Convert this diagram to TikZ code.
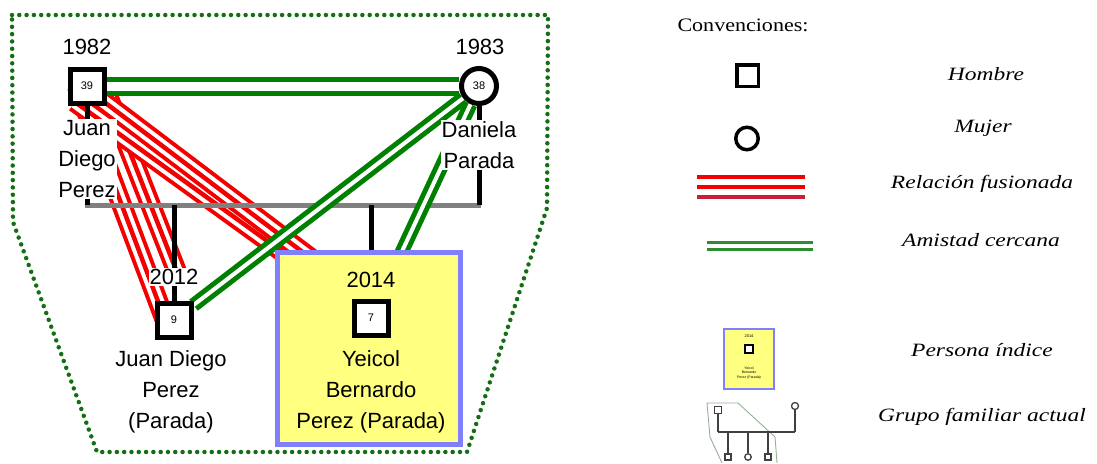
\documentclass[tikz,border=0pt]{standalone}
\usepackage{fontspec}
\setmainfont{Liberation Sans}
\newfontfamily\legfont{Liberation Serif}
\usepackage{graphicx}
\usetikzlibrary{calc}
\pgfdeclarelayer{lred}
\pgfdeclarelayer{lbar}
\pgfdeclarelayer{lgreen}
\pgfsetlayers{lred,lbar,lgreen,main}
\definecolor{fgreen}{RGB}{0,128,0}
\definecolor{dotgreen}{RGB}{20,110,20}
\definecolor{fred}{RGB}{245,0,0}
\definecolor{fred2}{RGB}{205,30,55}
\definecolor{lgreen}{RGB}{45,140,45}
\definecolor{bargray}{RGB}{128,128,128}
\definecolor{boxyellow}{RGB}{255,255,128}
\definecolor{boxblue}{RGB}{128,128,255}
\definecolor{grpline}{RGB}{150,175,150}
\newcommand{\legw}[1]{\scalebox{1.25}[1]{#1}}
\begin{document}
\begin{tikzpicture}[x=1pt,y=-1pt,
  male/.style={rectangle, draw=black, line width=5pt, fill=white, minimum size=34pt, inner sep=0pt, font=\fontsize{11}{12}\selectfont},
  female/.style={circle, draw=black, line width=5pt, fill=white, minimum size=35pt, inner sep=0pt, font=\fontsize{11}{12}\selectfont},
  lbl/.style={font=\fontsize{22}{31}\selectfont, align=center, inner sep=1pt},
  wlbl/.style={lbl, fill=white},
  fused/.style={draw=fred, line width=20.5pt, postaction={draw=white, line width=12.5pt}, postaction={draw=fred, line width=4.5pt}},
  friend/.style={draw=fgreen, line width=5pt, double=white, double distance=4pt},
  famline/.style={draw=bargray, line width=5pt},
  desc/.style={draw=black, line width=5pt},
  ibox/.style={rectangle, draw=boxblue, line width=5pt, fill=boxyellow, minimum width=183pt, minimum height=192pt, inner sep=0pt},
  legtxt/.style={font=\legfont\itshape\fontsize{18.8}{20}\selectfont, inner sep=0pt},
  icon/.style={draw=black!75, line width=1.3pt}
]
\useasboundingbox (0,0) rectangle (1097,463);

% ---------- persons ----------
\node[male] (F) at (87,86) {39};
\node[female] (M) at (479,86) {38};
\node[male] (S) at (174,320) {9};
\node[lbl] (Fyr) at (87,47) {1982};
\node[lbl] (Myr) at (480,47) {1983};
\node[wlbl] (Fname) at (87,159) {Juan\\Diego\\Perez};
\node[wlbl] (Mname) at (479,145) {Daniela\\Parada};
\node[wlbl] (Syr) at (174,277) {2012};
\node[lbl] (Sname) at (171,392) {Juan Diego\\Perez\\(Parada)};
\node[ibox] (box) at (369,348.5) {};
\node[lbl] (Yyr) at (371,280) {2014};
\node[male] (Y) at (371,318) {7};
\node[lbl] (Yname) at (371,392) {Yeicol\\Bernardo\\Perez (Parada)};

% ---------- fused relations ----------
\begin{pgfonlayer}{lred}
\draw[fused] ($(F)+(-10,0)$) -- ($(S)+(-9,0)$);
\draw[fused] ($(F)+(17,0)$) -- ($(S)+(6,-40)$);
\draw[fused] ($(F)+(-12,16)$) -- ($(Y)+(-22,-18)$);
\draw[fused] ($(F)+(8,9)$) -- ($(Y)+(-5,-18)$);
\end{pgfonlayer}

% ---------- family lines ----------
\begin{pgfonlayer}{lbar}
\coordinate (barL) at (85,205);
\coordinate (barR) at (481,205);
\draw[famline] (barL) -- (barR);
\draw[desc] (F) -- (F |- barL);
\draw[desc] (M) -- (M |- barL);
\draw[desc] (S |- barL) -- (S);
\draw[desc] (Y |- barL) -- (Y);
\end{pgfonlayer}

% ---------- close friendship ----------
\begin{pgfonlayer}{lgreen}
\draw[friend, double distance=9pt] (F) -- (M);
\draw[friend] (M) -- (S);
\draw[friend] (M) -- (Y);
\end{pgfonlayer}

% ---------- current family group ----------
\draw[dotgreen, line width=4.5pt, line cap=round, dash pattern=on 0pt off 7.3pt]
  (12,15) -- (548,15) -- (547,208) -- (467,452) -- (97,452) -- (13,222) -- cycle;

% ---------- legend ----------
\node[font=\legfont\fontsize{19}{22}\selectfont, inner sep=0pt] (conv) at (743,25) {\scalebox{1.16}[1]{Convenciones:}};
\node[draw=black, line width=3.5pt, minimum size=21.5pt, inner sep=0pt] (lsq) at (747.5,75.5) {};
\node[circle, draw=black, line width=3.5pt, minimum size=22.5pt, inner sep=0pt] (lci) at (747,138.5) {};
\coordinate (r1a) at (697,177); \coordinate (r1b) at (805,177);
\coordinate (r2a) at (697,187); \coordinate (r2b) at (805,187);
\coordinate (r3a) at (697,197); \coordinate (r3b) at (805,197);
\draw[fred, line width=4pt] (r1a) -- (r1b);
\draw[fred, line width=4pt] (r2a) -- (r2b);
\draw[fred2, line width=4pt] (r3a) -- (r3b);
\coordinate (g1a) at (707,242); \coordinate (g1b) at (813,242);
\coordinate (g2a) at (707,249); \coordinate (g2b) at (813,249);
\draw[lgreen, line width=3pt] (g1a) -- (g1b);
\draw[lgreen, line width=3pt] (g2a) -- (g2b);

\node[legtxt] (lh) at (986,74) {\legw{Hombre}};
\node[legtxt] (lm) at (983,128) {\legw{Mujer}};
\node[legtxt] (lr) at (982,184) {\legw{Relación fusionada}};
\node[legtxt] (la) at (981,240) {\legw{Amistad cercana}};
\node[legtxt] (lp) at (982,350) {\legw{Persona índice}};
\node[legtxt] (lg) at (982,417) {\legw{Grupo familiar actual}};

% index person icon
\node[draw=boxblue, line width=1.3pt, fill=boxyellow, minimum width=50pt, minimum height=60pt, inner sep=0pt] (libox) at (749,359) {};
\node[font=\fontsize{4}{5}\selectfont, inner sep=0pt] (liyr) at (749,336) {2014};
\node[draw=black, line width=1.8pt, minimum size=8pt, inner sep=0pt, fill=white] (lisq) at (749,349) {};
\node[font=\fontsize{3.5}{4.6}\selectfont, align=center, inner sep=0pt] (liname) at (749,373) {Yeicol\\Bernardo\\Perez (Parada)};

% family group icon
\draw[grpline, line width=0.9pt] (777,463) -- (775,437) -- (738,403) -- (707,403) -- (710,437) -- (722,463);
\node[draw=black!75, line width=1.3pt, minimum size=6.5pt, inner sep=0pt] (gi1) at (718,410) {};
\node[circle, draw=black!75, line width=1.3pt, minimum size=7pt, inner sep=0pt] (gi2) at (795,406) {};
\coordinate (gbL) at (718,432); \coordinate (gbR) at (795,432);
\draw[icon] (gbL) -- (gbR);
\draw[icon] (gi1) -- (gbL);
\draw[icon] (gi2) -- (gbR);
\node[draw=black!75, line width=1.3pt, minimum size=6pt, inner sep=0pt] (gc1) at (728,457) {};
\node[circle, draw=black!75, line width=1.3pt, minimum size=6.5pt, inner sep=0pt] (gc2) at (748,457) {};
\node[draw=black!75, line width=1.3pt, minimum size=6pt, inner sep=0pt] (gc3) at (768,457) {};
\draw[icon] (gc1 |- gbL) -- (gc1);
\draw[icon] (gc2 |- gbL) -- (gc2);
\draw[icon] (gc3 |- gbL) -- (gc3);
\end{tikzpicture}
\end{document}
